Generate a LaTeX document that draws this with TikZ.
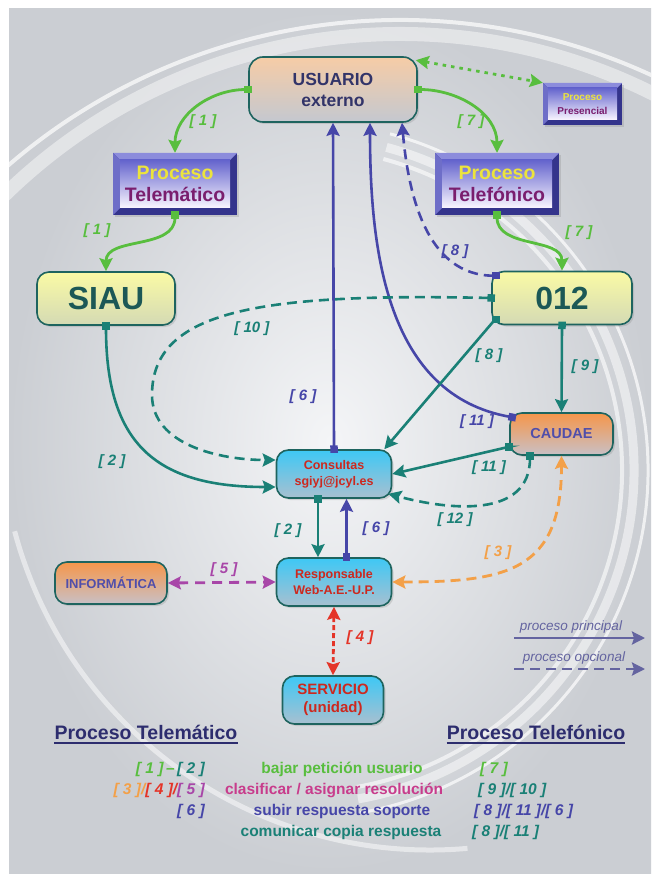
\documentclass[tikz,border=0pt]{standalone}
\usepackage{fontspec}
\setmainfont{Liberation Sans}
\usetikzlibrary{arrows.meta}
\usetikzlibrary{shadows}
\usetikzlibrary{positioning}

\definecolor{cgreen}{RGB}{88,190,62}
\definecolor{cteal}{RGB}{26,128,118}
\definecolor{cblue}{RGB}{70,70,168}
\definecolor{corange}{RGB}{243,160,72}
\definecolor{cmag}{RGB}{168,70,168}
\definecolor{cpink}{RGB}{200,60,140}
\definecolor{cred}{RGB}{228,52,40}
\definecolor{boxline}{RGB}{30,100,95}
\definecolor{usrtop}{RGB}{246,204,166}
\definecolor{usrbot}{RGB}{196,200,208}
\definecolor{usrtxt}{RGB}{50,52,105}
\definecolor{sitetop}{RGB}{250,250,165}
\definecolor{sitebot}{RGB}{212,218,180}
\definecolor{sitetxt}{RGB}{28,88,86}
\definecolor{orgtop}{RGB}{246,150,74}
\definecolor{orgbot}{RGB}{200,192,198}
\definecolor{orgtxt}{RGB}{80,78,170}
\definecolor{cyatop}{RGB}{62,200,245}
\definecolor{cyabot}{RGB}{168,192,208}
\definecolor{cyatxt}{RGB}{205,40,30}
\definecolor{bevdark}{RGB}{52,52,140}
\definecolor{bevtop}{RGB}{140,140,220}
\definecolor{bevleft}{RGB}{110,110,200}
\definecolor{facetop}{RGB}{100,100,205}
\definecolor{facebot}{RGB}{250,246,255}
\definecolor{procyel}{RGB}{236,228,60}
\definecolor{procpur}{RGB}{122,30,110}
\definecolor{legcol}{RGB}{100,100,160}
\definecolor{bgin}{RGB}{244,245,247}
\definecolor{bgout}{RGB}{203,206,211}
\definecolor{headcol}{RGB}{45,45,110}

\tikzset{
    arw/.tip = {Stealth[length=13pt,width=13pt,inset=2pt]},
    sqr/.tip = {Square[length=7.5pt,width=7.5pt]},
    basebox/.style = {rounded corners=12pt, draw=boxline, line width=1.6pt, align=center, inner sep=2pt,
        drop shadow={shadow xshift=2pt,shadow yshift=-2pt,opacity=0.25}},
    usrbox/.style = {basebox, rounded corners=14pt, top color=usrtop, bottom color=usrbot, text=usrtxt,
        font=\fontsize{17.5}{21}\selectfont\bfseries, minimum width=168pt, minimum height=65pt},
    sitebox/.style = {basebox, top color=sitetop, bottom color=sitebot, text=sitetxt,
        font=\fontsize{32}{36}\selectfont\bfseries, minimum width=138pt, minimum height=53pt},
    orgbox/.style = {basebox, top color=orgtop, bottom color=orgbot, text=orgtxt, minimum height=42pt},
    cyabox/.style = {basebox, top color=cyatop, bottom color=cyabot, text=cyatxt, minimum height=48pt},
    bevpic/.style = {fill=bevdark, path picture={
        \fill[bevdark] (path picture bounding box.south west) rectangle (path picture bounding box.north east);
        \fill[bevtop] (path picture bounding box.north west) -- (path picture bounding box.north east)
            -- ([shift={(-#1,-#1)}]path picture bounding box.north east) -- ([shift={(#1,-#1)}]path picture bounding box.north west) -- cycle;
        \fill[bevleft] (path picture bounding box.north west) -- ([shift={(#1,-#1)}]path picture bounding box.north west)
            -- ([shift={(#1,#1)}]path picture bounding box.south west) -- (path picture bounding box.south west) -- cycle;
        \shade[top color=facetop, bottom color=facebot] ([shift={(#1,#1)}]path picture bounding box.south west)
            rectangle ([shift={(-#1,-#1)}]path picture bounding box.north east);
    }},
    procbox/.style = {bevpic=7pt, minimum width=124pt, minimum height=62pt, inner sep=0pt, align=center,
        font=\fontsize{19.5}{22.5}\selectfont\bfseries,
        drop shadow={shadow xshift=2pt,shadow yshift=-2pt,opacity=0.25}},
    lbl/.style = {inner sep=0pt, font=\fontsize{15}{17}\selectfont\bfseries\itshape},
    rowlbl/.style = {inner sep=0pt, font=\fontsize{15.5}{18}\selectfont\bfseries\itshape},
    rowtxt/.style = {inner sep=0pt, font=\fontsize{15.5}{18}\selectfont\bfseries},
    headtxt/.style = {inner sep=0pt, text=headcol, font=\fontsize{19.5}{22}\selectfont\bfseries},
    legtxt/.style = {inner sep=0pt, text=legcol, font=\fontsize{13.5}{16}\selectfont\itshape},
    sqedge/.style = {sqr-arw, shorten <=-3.75pt},
    dbl/.style = {arw-arw},
    edgegr/.style = {sqedge, line width=2.8pt, cgreen},
    edgegrd/.style = {dbl, line width=2.8pt, cgreen, dash pattern=on 3.5pt off 5pt},
    edgeb/.style = {sqedge, line width=2.6pt, cblue},
    edgebd/.style = {edgeb, dash pattern=on 10pt off 6pt},
    edget/.style = {sqedge, line width=2.6pt, cteal},
    edgetd/.style = {edget, dash pattern=on 10pt off 6pt},
    edgeo/.style = {dbl, line width=2.8pt, corange, dash pattern=on 10pt off 6pt},
    edgem/.style = {dbl, line width=2.8pt, cmag, dash pattern=on 10pt off 7pt},
    edger/.style = {dbl, line width=2.8pt, cred, dash pattern=on 5pt off 3pt},
    edgeleg/.style = {-arw, line width=2.6pt, legcol}
}

\begin{document}
\begin{tikzpicture}[x=1pt,y=-1pt]
\path[use as bounding box] (0,0) rectangle (659,882);
\fill[white] (0,0) rectangle (659,882);

% background panel and swirls
\shade[inner color=bgin, outer color=bgout] (9,9) rectangle (651,873);
\begin{scope}
\clip (9,9) rectangle (651,873);
\draw[white, line width=14pt, opacity=0.45] (400,600) ++(140:566pt) arc[start angle=140, end angle=60, radius=566pt];
\draw[white, line width=4pt, opacity=0.7] (400,620) ++(145:600pt) arc[start angle=145, end angle=62, radius=600pt];
\draw[white, line width=4pt, opacity=0.6] (300,470) ++(-80:322pt) arc[start angle=-80, end angle=75, radius=322pt];
\draw[white, line width=9pt, opacity=0.5] (300,470) ++(-80:334pt) arc[start angle=-80, end angle=75, radius=334pt];
\draw[white, line width=3pt, opacity=0.7] (300,470) ++(-80:348pt) arc[start angle=-80, end angle=75, radius=348pt];
\draw[white, line width=5pt, opacity=0.5] (430,420) ++(195:430pt) arc[start angle=195, end angle=275, radius=430pt];
\end{scope}

%
\node[usrbox] at (333,89.5) (usr) {USUARIO\\externo};
\node[procbox] at (175,184) (ptel) {\textcolor{procyel}{Proceso}\\\textcolor{procpur}{Telemático}};
\node[procbox] at (497,184) (ptef) {\textcolor{procyel}{Proceso}\\\textcolor{procpur}{Telefónico}};
\node[procbox, bevpic=5pt, minimum width=79pt, minimum height=42pt, font=\fontsize{10}{14.5}\selectfont\bfseries] at (582.5,104) (pres) {\textcolor{procyel}{Proceso}\\\textcolor{procpur}{Presencial}};
\node[sitebox] at (106,298.5) (siau) {SIAU};
\node[sitebox, minimum width=140pt] at (562,298) (n012) {012};
\node[orgbox, minimum width=103pt, font=\fontsize{14.5}{17}\selectfont\bfseries] at (561.5,434) (caud) {CAUDAE};
\node[cyabox, minimum width=115pt, font=\fontsize{12.5}{16}\selectfont\bfseries] at (334,474) (cons) {Consultas\\sgiyj@jcyl.es};
\node[cyabox, minimum width=115pt, font=\fontsize{12.5}{16}\selectfont\bfseries] at (334,582) (resp) {Responsable\\Web-A.E.-U.P.};
\node[orgbox, minimum width=112pt, font=\fontsize{13}{15}\selectfont\bfseries] at (111,583) (inf) {INFORMÁTICA};
\node[cyabox, minimum width=101pt, font=\fontsize{15}{17.5}\selectfont\bfseries] at (333,700) (serv) {SERVICIO\\(unidad)};
%
\draw[edgegr] (usr.west) to[out=180,in=90] (ptel.north);
\draw[edgegr] (usr.east) to[out=0,in=90] (ptef.north);
\draw[edgegr] (ptel.south) to[out=-90,in=90] (siau.north);
\draw[edgegr] (ptef.south) to[out=-90,in=90] (n012.north);
\draw[edgegrd] ([xshift=-2pt,yshift=-4pt]usr.north east) -- (pres.north west);

\draw[edgeb] (cons.north) -- (usr.south);
\draw[edgeb] ([xshift=3pt,yshift=-5pt]caud.north west) to[out=170,in=-90] ([xshift=37pt]usr.south);
\draw[edgebd] ([xshift=5pt,yshift=-5pt]n012.north west) to[out=180,in=-85] ([xshift=69pt]usr.south);
\draw[edgeb] ([xshift=12.5pt]resp.north) -- ([xshift=12.5pt]cons.south);

\coordinate (c10) at (152,395);
\draw[edget] (siau.south) to[out=-90,in=180,looseness=1.3] ([yshift=-13pt]cons.west);
\draw[edget] ([xshift=5pt,yshift=6pt]n012.south west) -- ++(-1,0) -- ([xshift=-8pt]cons.north east);
\draw[edget] (n012.south) -- (caud.north);
\draw[edget] ([yshift=-13pt]caud.west) -- ++(-1,0) -- (cons.east);
\draw[edget] ([xshift=-16pt]cons.south) -- ([xshift=-16pt]resp.north);
\draw[edgetd] (n012.west) .. controls (260,293) and (152,310) .. (c10) .. controls (152,445) and (220,460) .. ([yshift=14pt]cons.west);
\draw[edgetd] ([xshift=-31.5pt]caud.south) to[out=-90,in=-15,looseness=1.1] ([xshift=-4pt,yshift=5pt]cons.south east);

\draw[edgeo] (resp.east) to[out=0,in=-90,looseness=1.4] (caud.south);
\draw[edgem] (inf.east) -- (resp.west);
\draw[edger] (resp.south) -- (serv.north);
%
\node[lbl, text=cgreen] at (203,122) (l1a) {[ 1 ]};
\node[lbl, text=cgreen] at (471,122) (l7a) {[ 7 ]};
\node[lbl, text=cgreen] at (97,231) (l1b) {[ 1 ]};
\node[lbl, text=cgreen] at (579,233) (l7b) {[ 7 ]};
\node[lbl, text=cblue] at (455,252) (l8a) {[ 8 ]};
\node[lbl, text=cteal] at (252,329) (l10) {[ 10 ]};
\node[lbl, text=cteal] at (489,356) (l8b) {[ 8 ]};
\node[lbl, text=cteal] at (585,367) (l9) {[ 9 ]};
\node[lbl, text=cblue] at (303,397) (l6a) {[ 6 ]};
\node[lbl, text=cblue] at (477,422) (l11a) {[ 11 ]};
\node[lbl, text=cteal] at (489,468) (l11b) {[ 11 ]};
\node[lbl, text=cteal] at (112,462) (l2a) {[ 2 ]};
\node[lbl, text=cteal] at (455,520) (l12) {[ 12 ]};
\node[lbl, text=cteal] at (288,531) (l2b) {[ 2 ]};
\node[lbl, text=cblue] at (376,529) (l6b) {[ 6 ]};
\node[lbl, text=corange] at (498,553) (l3) {[ 3 ]};
\node[lbl, text=cmag] at (224,570) (l5) {[ 5 ]};
\node[lbl, text=cred] at (360,638) (l4) {[ 4 ]};

% legend
\node[legtxt] at (571,627) (lgp) {proceso principal};
\coordinate (lp1) at (514,638);
\coordinate (lp2) at (645,638);
\draw[edgeleg] (lp1) -- (lp2);
\node[legtxt] at (574,658) (lgo) {proceso opcional};
\coordinate (lo1) at (514,669);
\coordinate (lo2) at (645,669);
\draw[edgeleg, dash pattern=on 10pt off 6pt] (lo1) -- (lo2);

% table
\node[headtxt] at (146,732) (ht1) {Proceso Telemático};
\draw[headcol, line width=1.8pt] ([yshift=-4pt]ht1.base west) -- ([yshift=-4pt]ht1.base east);
\node[headtxt] at (536,732) (ht2) {Proceso Telefónico};
\draw[headcol, line width=1.8pt] ([yshift=-4pt]ht2.base west) -- ([yshift=-4pt]ht2.base east);

\node[rowlbl, anchor=east] at (205,769) (t1a) {\textcolor{cgreen}{[ 1 ]\,--\,}\textcolor{cteal}{[ 2 ]}};
\node[rowtxt, text=cgreen] at (342,769) (t1b) {bajar petición usuario};
\node[rowlbl, anchor=west, text=cgreen] at (480,769) (t1c) {[ 7 ]};
\node[rowlbl, anchor=east] at (205,790) (t2a) {\textcolor{corange}{[ 3 ]/}\textcolor{cred}{[ 4 ]/}\textcolor{cmag}{[ 5 ]}};
\node[rowtxt, text=cpink] at (334,790) (t2b) {clasificar / asignar resolución};
\node[rowlbl, anchor=west, text=cteal] at (478,790) (t2c) {[ 9 ]/[ 10 ]};
\node[rowlbl, anchor=east, text=cblue] at (205,811) (t3a) {[ 6 ]};
\node[rowtxt, text=cblue] at (342,811) (t3b) {subir respuesta soporte};
\node[rowlbl, anchor=west, text=cblue] at (474,811) (t3c) {[ 8 ]/[ 11 ]/[ 6 ]};
\node[rowtxt, text=cteal] at (341,832) (t4b) {comunicar copia respuesta};
\node[rowlbl, anchor=west, text=cteal] at (472,832) (t4c) {[ 8 ]/[ 11 ]};

\end{tikzpicture}
\end{document}
